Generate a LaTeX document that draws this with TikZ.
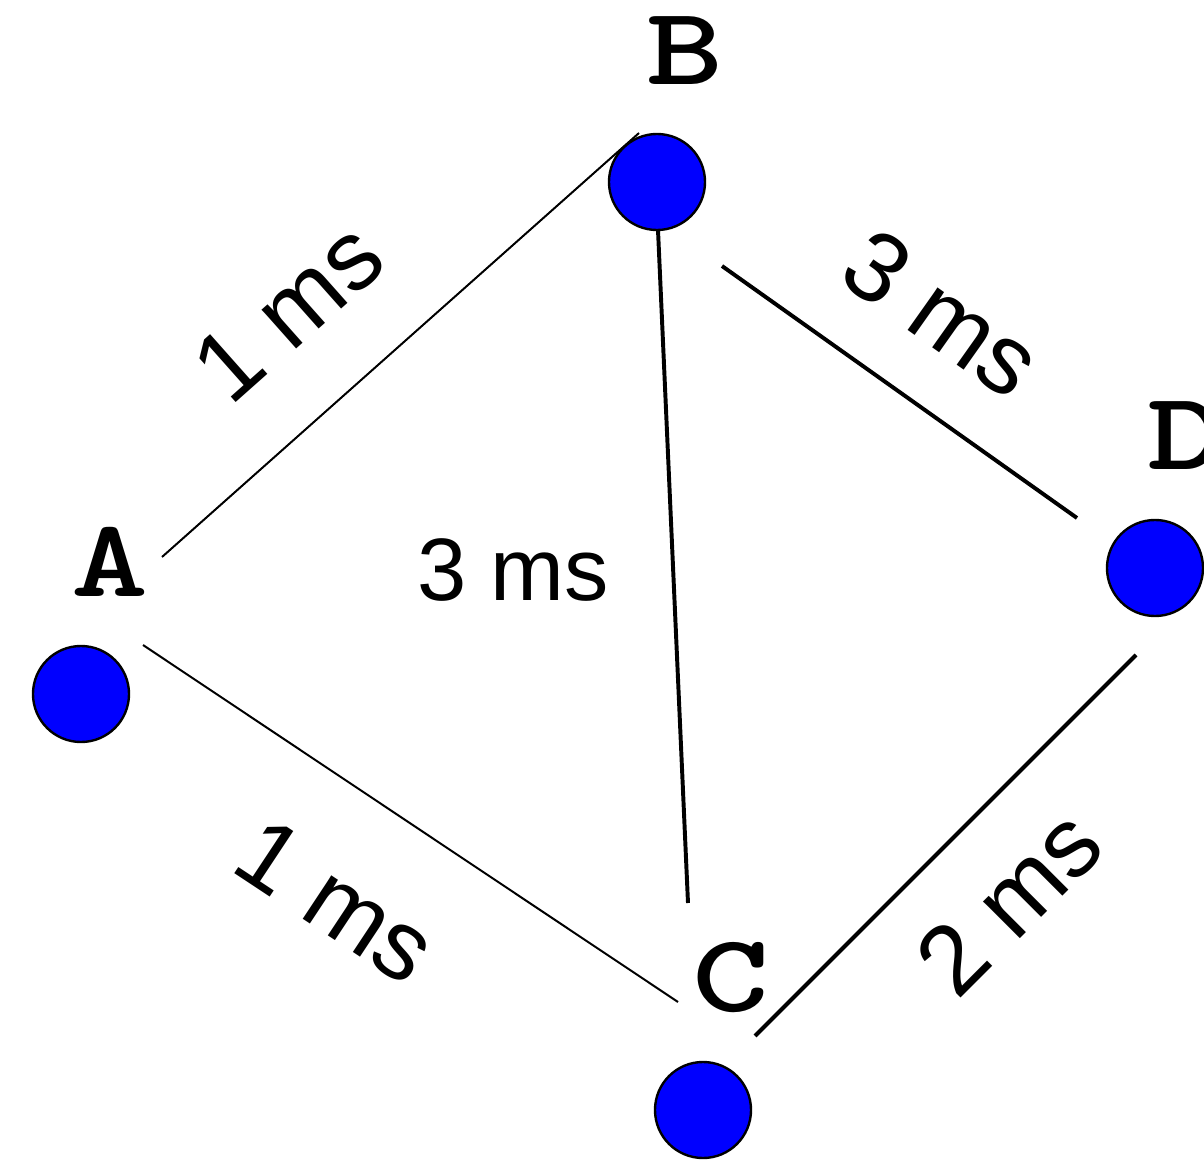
\documentclass[tikz,border=0pt]{standalone}
\usepackage{fontspec}
\setmainfont{Liberation Sans}
\newcommand{\widetxt}[1]{\scalebox{1.32}[1]{#1}}
\begin{document}
\begin{tikzpicture}[x=0.025cm,y=-0.025cm,
  vertex/.style={inner sep=0pt,minimum size=2.4cm,circle,draw,line width=1.7pt,fill=blue},
  vname/.style={inner sep=0pt,font=\ttfamily\bfseries\fontsize{79}{79}\selectfont},
  wt/.style={inner sep=0pt,font=\fontsize{#1}{#1}\selectfont},
  wt/.default=63,
  thinedge/.style={line width=1.4pt},
  thickedge/.style={line width=2.8pt}]
\useasboundingbox (0,0) rectangle (1204,1162);

\node[vertex] (A) at (81,694) {};
\node[vertex] (B) at (657,182) {};
\node[vertex] (C) at (703,1110) {};
\node[vertex] (D) at (1155,568) {};

\node[vname] (nA) at (110,562) {\widetxt{A}};
\node[vname] (nB) at (685,51) {\widetxt{B}};
\node[vname] (nC) at (731,978) {\widetxt{C}};
\node[vname] (nD) at (1186,436) {\widetxt{D}};

% free ends of the links
\coordinate (ab1) at (162,557);
\coordinate (ab2) at (639,133);
\coordinate (ac1) at (143,645);
\coordinate (ac2) at (678,1002);
\coordinate (bc1) at (658,230);
\coordinate (bc2) at (688,903);
\coordinate (bd1) at (722,266);
\coordinate (bd2) at (1077,518);
\coordinate (cd1) at (755,1036);
\coordinate (cd2) at (1136,655);

\draw[thinedge] (ab1) -- (ab2);
\draw[thinedge] (ac1) -- (ac2);
\draw[thickedge] (bc1) -- (bc2);
\draw[thickedge] (bd1) -- (bd2);
\draw[thickedge] (cd1) -- (cd2);

\node[wt=70,rotate=41.6] (wAB) at (288,312) {1 ms};
\node[wt=70,rotate=-35.3] (wBD) at (942,313) {3 ms};
\node[wt] (wBC) at (513,570) {3 ms};
\node[wt=70,rotate=-33.5] (wAC) at (336,901) {1 ms};
\node[wt=70,rotate=45] (wCD) at (1009,902) {2 ms};

\end{tikzpicture}
\end{document}
